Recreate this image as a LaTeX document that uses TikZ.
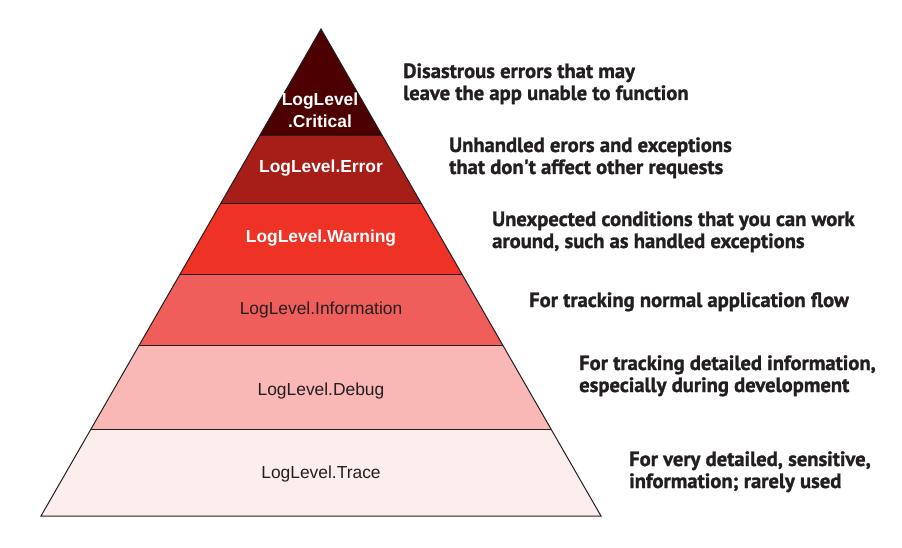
\documentclass[tikz,border=0pt]{standalone}
\usepackage{fontspec}
\setmainfont{Liberation Sans}
\newfontfamily\notefont[BoldFeatures={FakeBold=1.3}]{PT Sans}
\usetikzlibrary{calc}
\definecolor{cCrit}{HTML}{4C0000}
\definecolor{cErr}{HTML}{A61E17}
\definecolor{cWarn}{HTML}{EE3226}
\definecolor{cInfo}{HTML}{F05E5B}
\definecolor{cDebug}{HTML}{F9B8B6}
\definecolor{cTrace}{HTML}{FDEEEE}
\definecolor{cInk}{HTML}{231F20}
\tikzset{
  layer/.style={draw=cInk, line width=1pt, line join=miter},
  lvl/.style={font=\fontsize{17.4}{22}\selectfont, text=cInk, inner sep=0pt, anchor=base, align=center},
  lvlw/.style={lvl, text=white, font=\fontsize{17.4}{22}\selectfont\bfseries},
  note/.style={font=\notefont\bfseries\fontsize{20.6}{22}\selectfont, text=cInk, inner sep=0pt, anchor=base west, align=left}
}
\begin{document}
\begin{tikzpicture}[x=1pt,y=-1pt]
\useasboundingbox (0,0) rectangle (902,548);
\coordinate (A) at (321,29);
\coordinate (L) at (41,516);
\coordinate (R) at (601,516);
\foreach \n/\t in {1/0.2197,2/0.3573,3/0.5031,4/0.6509,5/0.8214}{
  \coordinate (L\n) at ($(A)!\t!(L)$);
  \coordinate (R\n) at ($(A)!\t!(R)$);
}
\fill[cTrace] (L5) -- (R5) -- (R) -- (L) -- cycle;
\fill[cDebug] (L4) -- (R4) -- (R5) -- (L5) -- cycle;
\fill[cInfo] (L3) -- (R3) -- (R4) -- (L4) -- cycle;
\fill[cWarn] (L2) -- (R2) -- (R3) -- (L3) -- cycle;
\fill[cErr] (L1) -- (R1) -- (R2) -- (L2) -- cycle;
\fill[cCrit] (A) -- (R1) -- (L1) -- cycle;
\draw[layer] (A) -- (R) -- (L) -- cycle;
\foreach \n in {1,...,5}{\draw[layer] (L\n) -- (R\n);}

\node[lvlw] (crit) at (320,128) {LogLevel\\.Critical};
\node[lvlw] (err) at (321,173) {LogLevel.Error};
\node[lvlw] (warn) at (321,243) {LogLevel.Warning};
\node[lvl] (info) at (321,314) {LogLevel.Information};
\node[lvl] (debug) at (321,395) {LogLevel.Debug};
\node[lvl] (trace) at (321,478) {LogLevel.Trace};

\node[note] (ncrit) at (403,100) {Disastrous errors that may\\leave the app unable to function};
\node[note] (nerr) at (449,174) {Unhandled erors and exceptions\\that don't affect other requests};
\node[note] (nwarn) at (492,248) {Unexpected conditions that you can work\\around, such as handled exceptions};
\node[note] (ninfo) at (529,307) {For tracking normal application flow};
\node[note] (ndebug) at (579,392) {For tracking detailed information,\\especially during development};
\node[note] (ntrace) at (629,488) {For very detailed, sensitive,\\information; rarely used};
\end{tikzpicture}
\end{document}
